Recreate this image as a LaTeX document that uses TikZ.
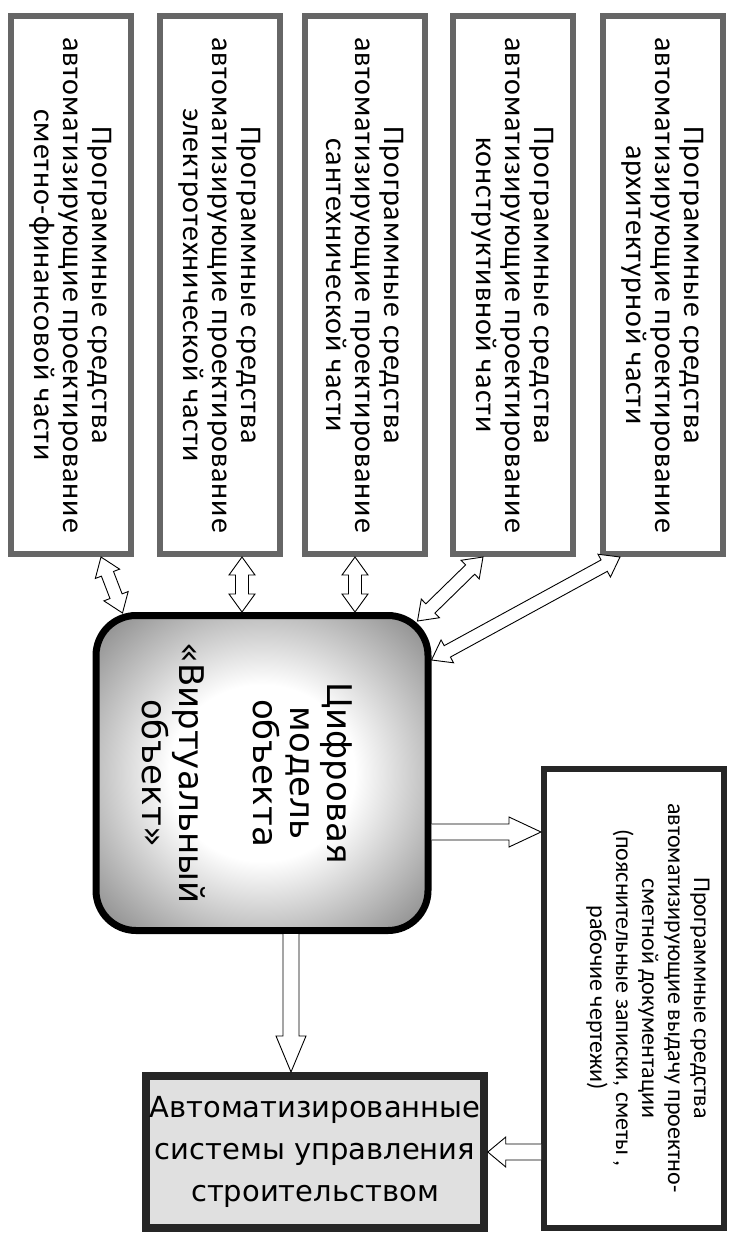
\documentclass[tikz,border=0pt]{standalone}
\usepackage{fontspec}
\setmainfont{Carlito}
\newfontfamily\dejavu{DejaVu Sans}
\usepackage{graphicx}
\usetikzlibrary{calc}

% text turned a quarter clockwise
\newcommand{\sidetext}[2]{\rotatebox{-90}{\parbox{#1}{\centering #2}}}

% hollow arrow with two heads, from #1 to #2
\newcommand{\twolink}[2]{%
  \coordinate (hA) at ($(#1)!18pt!(#2)$);
  \coordinate (hB) at ($(#2)!18pt!(#1)$);
  \draw[link] (#1) -- ($(hA)!13pt!90:(#2)$) -- ($(hA)!6.5pt!90:(#2)$)
    -- ($(hB)!6.5pt!90:(#2)$) -- ($(hB)!13pt!90:(#2)$) -- (#2)
    -- ($(hB)!13pt!-90:(#2)$) -- ($(hB)!6.5pt!-90:(#2)$)
    -- ($(hA)!6.5pt!-90:(#2)$) -- ($(hA)!13pt!-90:(#2)$) -- cycle;}

% hollow arrow with one head (length #1), from #2 to #3
\newcommand{\onelink}[3][32pt]{%
  \coordinate (hB) at ($(#3)!#1!(#2)$);
  \draw[link] ($(#2)!8pt!90:(#3)$) -- ($(hB)!8pt!90:(#3)$)
    -- ($(hB)!15pt!90:(#3)$) -- (#3) -- ($(hB)!15pt!-90:(#3)$)
    -- ($(hB)!8pt!-90:(#3)$) -- ($(#2)!8pt!-90:(#3)$);}

% grey fill of the model box
\pgfdeclareradialshading{modelshade}{\pgfpoint{0bp}{0bp}}{color(0bp)=(white); color(14bp)=(white); color(34bp)=(black!45); color(50bp)=(black!65); color(75bp)=(black!70)}

\begin{document}
\begin{tikzpicture}[x=1pt,y=-1pt,
    frame/.style={draw=black!60, line width=6pt, fill=white, inner sep=0pt,
        minimum width=120pt, minimum height=538pt,
        font=\addfontfeature{LetterSpace=3}\fontsize{30}{29}\selectfont},
    link/.style={draw=black, line width=0.9pt, fill=white, line join=miter}]
\useasboundingbox (0,0) rectangle (736,1242);

% programs for the design parts
\node[frame] (smeta) at (71,285) {\sidetext{530pt}{Программные средства\\автоматизирующие проектирование\\сметно-финансовой части}};
\node[frame] (elektro) at (220,285) {\sidetext{530pt}{Программные средства\\автоматизирующие проектирование\\электротехнической части}};
\node[frame] (santeh) at (365,285) {\sidetext{530pt}{Программные средства\\автоматизирующие проектирование\\сантехнической части}};
\node[frame] (konstr) at (513,285) {\sidetext{530pt}{Программные средства\\автоматизирующие проектирование\\конструктивной части}};
\node[frame] (arch) at (663,285) {\sidetext{530pt}{Программные средства\\автоматизирующие проектирование\\архитектурной части}};

% digital model
\node[draw=black, line width=7pt, rounded corners=40pt, shading=modelshade,
    minimum width=332pt, minimum height=315pt, inner sep=0pt,
    font=\dejavu\fontsize{34}{37}\selectfont] (model) at (262,773)
    {\sidetext{300pt}{\vspace*{30pt}Цифровая\\модель\\объекта\\[37pt]«Виртуальный\\объект»}};

% output of documents
\node[frame, draw=black!85, minimum width=180pt, minimum height=459pt,
    font=\fontsize{24}{26}\selectfont] (vydacha) at (634,998)
    {\sidetext{440pt}{Программные средства\\автоматизирующие выдачу проектно-\\сметной документации\\(пояснительные записки, сметы ,\\рабочие чертежи)\par\vspace*{28pt}}};

% construction management
\node[draw=black!85, line width=8pt, fill=black!12, minimum width=322pt,
    minimum height=152pt, align=center,
    font=\dejavu\fontsize{29}{42}\selectfont] (asus) at (315,1152)
    {Автоматизированные\\системы управления\\строительством};

% ends of the links
\coordinate (e1) at ([xshift=30pt]smeta.south);
\coordinate (m1) at ($(model.north west)+(30,1)$);
\coordinate (e2) at ([xshift=22pt]elektro.south);
\coordinate (m2) at (e2 |- model.north);
\coordinate (e3) at ([xshift=-10pt]santeh.south);
\coordinate (m3) at (e3 |- model.north);
\coordinate (e4) at ([xshift=-30pt]konstr.south);
\coordinate (m4) at ($(model.north east)+(-14,9)$);
\coordinate (e5) at ([xshift=-43pt]arch.south);
\coordinate (m5) at ($(model.north east)+(0,48)$);
\coordinate (m6) at ([yshift=-59pt]model.east);
\coordinate (v6) at (m6 -| vydacha.west);
\coordinate (m7) at ([xshift=29pt]model.south);
\coordinate (a7) at (m7 |- asus.north);
\coordinate (v8) at (vydacha.west |- asus.east);

% links
\twolink{e1}{m1}
\twolink{e2}{m2}
\twolink{e3}{m3}
\twolink{e4}{m4}
\twolink{e5}{m5}
\onelink{m6}{v6}
\onelink[36pt]{m7}{a7}
\onelink[18pt]{v8}{asus.east}
\end{tikzpicture}
\end{document}
